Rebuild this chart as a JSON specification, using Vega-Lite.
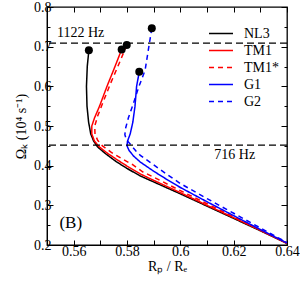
{
  "$schema": "https://vega.github.io/schema/vega-lite/v6.json",
  "width": 240,
  "height": 238,
  "autosize": "none",
  "padding": {"left": 47, "top": 7, "right": 13, "bottom": 38},
  "config": {
    "font": "Liberation Serif",
    "view": {"stroke": "black", "strokeWidth": 1.3},
    "axis": {
      "grid": false,
      "domainColor": "black",
      "tickColor": "black",
      "labelColor": "black",
      "titleColor": "black",
      "labelFont": "Liberation Serif",
      "titleFont": "Liberation Serif",
      "labelFontSize": 14,
      "titleFontSize": 14,
      "titleFontWeight": "normal"
    }
  },
  "datasets": {
    "curves": [
      {"s": "NL3", "i": 1, "x": 0.5657, "y": 0.691},
      {"s": "NL3", "i": 2, "x": 0.5651, "y": 0.65},
      {"s": "NL3", "i": 3, "x": 0.5648, "y": 0.6},
      {"s": "NL3", "i": 4, "x": 0.565, "y": 0.55},
      {"s": "NL3", "i": 5, "x": 0.5656, "y": 0.51},
      {"s": "NL3", "i": 6, "x": 0.5664, "y": 0.48},
      {"s": "NL3", "i": 7, "x": 0.5675, "y": 0.462},
      {"s": "NL3", "i": 8, "x": 0.569, "y": 0.447},
      {"s": "NL3", "i": 9, "x": 0.572, "y": 0.43},
      {"s": "NL3", "i": 10, "x": 0.576, "y": 0.41},
      {"s": "NL3", "i": 11, "x": 0.58, "y": 0.393},
      {"s": "NL3", "i": 12, "x": 0.585, "y": 0.374},
      {"s": "NL3", "i": 13, "x": 0.59, "y": 0.359},
      {"s": "NL3", "i": 14, "x": 0.6, "y": 0.329},
      {"s": "NL3", "i": 15, "x": 0.61, "y": 0.298},
      {"s": "NL3", "i": 16, "x": 0.62, "y": 0.267},
      {"s": "NL3", "i": 17, "x": 0.63, "y": 0.236},
      {"s": "NL3", "i": 18, "x": 0.64, "y": 0.204},
      {"s": "TM1", "i": 1, "x": 0.578, "y": 0.693},
      {"s": "TM1", "i": 2, "x": 0.5755, "y": 0.65},
      {"s": "TM1", "i": 3, "x": 0.5725, "y": 0.6},
      {"s": "TM1", "i": 4, "x": 0.5697, "y": 0.55},
      {"s": "TM1", "i": 5, "x": 0.5678, "y": 0.52},
      {"s": "TM1", "i": 6, "x": 0.5668, "y": 0.5},
      {"s": "TM1", "i": 7, "x": 0.5668, "y": 0.48},
      {"s": "TM1", "i": 8, "x": 0.5678, "y": 0.462},
      {"s": "TM1", "i": 9, "x": 0.5695, "y": 0.448},
      {"s": "TM1", "i": 10, "x": 0.5725, "y": 0.432},
      {"s": "TM1", "i": 11, "x": 0.5765, "y": 0.414},
      {"s": "TM1", "i": 12, "x": 0.58, "y": 0.399},
      {"s": "TM1", "i": 13, "x": 0.585, "y": 0.379},
      {"s": "TM1", "i": 14, "x": 0.59, "y": 0.363},
      {"s": "TM1", "i": 15, "x": 0.6, "y": 0.332},
      {"s": "TM1", "i": 16, "x": 0.61, "y": 0.3},
      {"s": "TM1", "i": 17, "x": 0.62, "y": 0.269},
      {"s": "TM1", "i": 18, "x": 0.63, "y": 0.237},
      {"s": "TM1", "i": 19, "x": 0.64, "y": 0.204},
      {"s": "TM1*", "i": 1, "x": 0.5799, "y": 0.704},
      {"s": "TM1*", "i": 2, "x": 0.5772, "y": 0.66},
      {"s": "TM1*", "i": 3, "x": 0.574, "y": 0.61},
      {"s": "TM1*", "i": 4, "x": 0.571, "y": 0.56},
      {"s": "TM1*", "i": 5, "x": 0.569, "y": 0.525},
      {"s": "TM1*", "i": 6, "x": 0.5679, "y": 0.5},
      {"s": "TM1*", "i": 7, "x": 0.568, "y": 0.48},
      {"s": "TM1*", "i": 8, "x": 0.569, "y": 0.464},
      {"s": "TM1*", "i": 9, "x": 0.5708, "y": 0.45},
      {"s": "TM1*", "i": 10, "x": 0.574, "y": 0.434},
      {"s": "TM1*", "i": 11, "x": 0.578, "y": 0.418},
      {"s": "TM1*", "i": 12, "x": 0.582, "y": 0.403},
      {"s": "TM1*", "i": 13, "x": 0.586, "y": 0.384},
      {"s": "TM1*", "i": 14, "x": 0.59, "y": 0.371},
      {"s": "TM1*", "i": 15, "x": 0.6, "y": 0.337},
      {"s": "TM1*", "i": 16, "x": 0.61, "y": 0.304},
      {"s": "TM1*", "i": 17, "x": 0.62, "y": 0.271},
      {"s": "TM1*", "i": 18, "x": 0.63, "y": 0.238},
      {"s": "TM1*", "i": 19, "x": 0.64, "y": 0.205},
      {"s": "G1", "i": 1, "x": 0.5846, "y": 0.6365},
      {"s": "G1", "i": 2, "x": 0.5836, "y": 0.6},
      {"s": "G1", "i": 3, "x": 0.583, "y": 0.55},
      {"s": "G1", "i": 4, "x": 0.5822, "y": 0.51},
      {"s": "G1", "i": 5, "x": 0.5812, "y": 0.48},
      {"s": "G1", "i": 6, "x": 0.5802, "y": 0.462},
      {"s": "G1", "i": 7, "x": 0.58, "y": 0.45},
      {"s": "G1", "i": 8, "x": 0.5808, "y": 0.438},
      {"s": "G1", "i": 9, "x": 0.5825, "y": 0.424},
      {"s": "G1", "i": 10, "x": 0.585, "y": 0.409},
      {"s": "G1", "i": 11, "x": 0.59, "y": 0.386},
      {"s": "G1", "i": 12, "x": 0.595, "y": 0.365},
      {"s": "G1", "i": 13, "x": 0.6, "y": 0.345},
      {"s": "G1", "i": 14, "x": 0.61, "y": 0.309},
      {"s": "G1", "i": 15, "x": 0.62, "y": 0.274},
      {"s": "G1", "i": 16, "x": 0.63, "y": 0.239},
      {"s": "G1", "i": 17, "x": 0.64, "y": 0.205},
      {"s": "G2", "i": 1, "x": 0.5893, "y": 0.7466},
      {"s": "G2", "i": 2, "x": 0.5868, "y": 0.641},
      {"s": "G2", "i": 3, "x": 0.5845, "y": 0.6},
      {"s": "G2", "i": 4, "x": 0.5824, "y": 0.557},
      {"s": "G2", "i": 5, "x": 0.5805, "y": 0.52},
      {"s": "G2", "i": 6, "x": 0.5795, "y": 0.495},
      {"s": "G2", "i": 7, "x": 0.5792, "y": 0.478},
      {"s": "G2", "i": 8, "x": 0.5798, "y": 0.465},
      {"s": "G2", "i": 9, "x": 0.5815, "y": 0.452},
      {"s": "G2", "i": 10, "x": 0.5832, "y": 0.438},
      {"s": "G2", "i": 11, "x": 0.585, "y": 0.426},
      {"s": "G2", "i": 12, "x": 0.59, "y": 0.402},
      {"s": "G2", "i": 13, "x": 0.595, "y": 0.378},
      {"s": "G2", "i": 14, "x": 0.6, "y": 0.355},
      {"s": "G2", "i": 15, "x": 0.61, "y": 0.317},
      {"s": "G2", "i": 16, "x": 0.62, "y": 0.28},
      {"s": "G2", "i": 17, "x": 0.63, "y": 0.243},
      {"s": "G2", "i": 18, "x": 0.64, "y": 0.206}
    ],
    "dots": [
      {"s": "NL3", "x": 0.5657, "y": 0.691},
      {"s": "TM1", "x": 0.578, "y": 0.693},
      {"s": "TM1*", "x": 0.5799, "y": 0.704},
      {"s": "G1", "x": 0.5846, "y": 0.6365},
      {"s": "G2", "x": 0.5893, "y": 0.7466}
    ],
    "freqs": [
      {"label": "1122 Hz", "y": 0.709, "tx": 0.5626, "ty": 0.735},
      {"label": "716 Hz", "y": 0.452, "tx": 0.6204, "ty": 0.4267}
    ],
    "panel": [
      {"label": "(B)", "x": 0.5589, "y": 0.2554}
    ]
  },
  "resolve": {"axis": {"x": "independent", "y": "independent"}},
  "layer": [
    {
      "data": {"name": "curves"},
      "mark": {"type": "line", "strokeWidth": 1.5, "clip": true},
      "encoding": {
        "x": {
          "field": "x", "type": "quantitative",
          "scale": {"domain": [0.55, 0.64], "nice": false, "zero": false},
          "axis": {
            "orient": "bottom",
            "title": "Rₚ / Rₑ",
            "values": [0.55, 0.56, 0.57, 0.58, 0.59, 0.6, 0.61, 0.62, 0.63, 0.64],
            "labelExpr": "round(datum.value*100)%2==0 && round(datum.value*100)>55 ? format(datum.value,'.2~f') : ''",
            "tickSize": -5,
            "labelPadding": 4,
            "titlePadding": 1,
            "labelFlush": false,
            "labelOverlap": false
          }
        },
        "y": {
          "field": "y", "type": "quantitative",
          "scale": {"domain": [0.2, 0.8], "nice": false, "zero": false},
          "axis": {
            "orient": "left",
            "title": "Ωₖ (10⁴ s⁻¹)",
            "values": [0.2, 0.25, 0.3, 0.35, 0.4, 0.45, 0.5, 0.55, 0.6, 0.65, 0.7, 0.75, 0.8],
            "labelExpr": "round(datum.value*100)%10==0 ? format(datum.value,'.1f') : ''",
            "tickSize": {"condition": {"test": "round(datum.value*100)%10==0", "value": -6}, "value": -3},
            "labelPadding": 2,
            "titlePadding": 5,
            "labelFlush": false,
            "labelOverlap": false
          }
        },
        "order": {"field": "i", "type": "quantitative"},
        "color": {
          "field": "s", "type": "nominal",
          "scale": {"domain": ["NL3", "TM1", "TM1*", "G1", "G2"], "range": ["#000000", "#ff0000", "#ff0000", "#0000ff", "#0000ff"]},
          "legend": {
            "title": null,
            "orient": "none",
            "legendX": 161,
            "legendY": 18,
            "padding": 0,
            "symbolType": "stroke",
            "symbolSize": 576,
            "symbolStrokeWidth": 1.5,
            "clipHeight": 17,
            "rowPadding": 0,
            "labelOffset": 10,
            "labelFont": "Liberation Serif",
            "labelFontSize": 14,
            "labelColor": "black"
          }
        },
        "strokeDash": {
          "field": "s", "type": "nominal",
          "scale": {"domain": ["NL3", "TM1", "TM1*", "G1", "G2"], "range": [[1, 0], [1, 0], [5, 4], [1, 0], [5, 4]]},
          "legend": {
            "title": null,
            "orient": "none",
            "legendX": 161,
            "legendY": 18,
            "padding": 0,
            "symbolType": "stroke",
            "symbolSize": 576,
            "symbolStrokeWidth": 1.5,
            "clipHeight": 17,
            "rowPadding": 0,
            "labelOffset": 10,
            "labelFont": "Liberation Serif",
            "labelFontSize": 14,
            "labelColor": "black"
          }
        }
      }
    },
    {
      "data": {"name": "freqs"},
      "mark": {"type": "rule", "strokeDash": [7, 4], "strokeWidth": 1.3, "color": "black"},
      "encoding": {
        "y": {"field": "y", "type": "quantitative", "axis": null}
      }
    },
    {
      "data": {"name": "freqs"},
      "mark": {"type": "text", "font": "Liberation Serif", "fontSize": 14, "color": "black"},
      "encoding": {
        "x": {"field": "tx", "type": "quantitative", "axis": null},
        "y": {"field": "ty", "type": "quantitative", "axis": null},
        "text": {"field": "label"}
      }
    },
    {
      "data": {"name": "panel"},
      "mark": {"type": "text", "font": "Liberation Serif", "fontSize": 17, "color": "black"},
      "encoding": {
        "x": {"field": "x", "type": "quantitative", "axis": null},
        "y": {"field": "y", "type": "quantitative", "axis": null},
        "text": {"field": "label"}
      }
    },
    {
      "data": {"name": "dots"},
      "mark": {"type": "circle", "size": 64, "color": "black", "opacity": 1},
      "encoding": {
        "x": {
          "field": "x", "type": "quantitative",
          "axis": {
            "orient": "top",
            "title": null,
            "labels": false,
            "domain": false,
            "values": [0.55, 0.56, 0.57, 0.58, 0.59, 0.6, 0.61, 0.62, 0.63, 0.64],
            "tickSize": -5
          }
        },
        "y": {
          "field": "y", "type": "quantitative",
          "axis": {
            "orient": "right",
            "title": null,
            "labels": false,
            "domain": false,
            "values": [0.2, 0.25, 0.3, 0.35, 0.4, 0.45, 0.5, 0.55, 0.6, 0.65, 0.7, 0.75, 0.8],
            "tickSize": {"condition": {"test": "round(datum.value*100)%10==0", "value": -6}, "value": -3}
          }
        }
      }
    }
  ]
}
